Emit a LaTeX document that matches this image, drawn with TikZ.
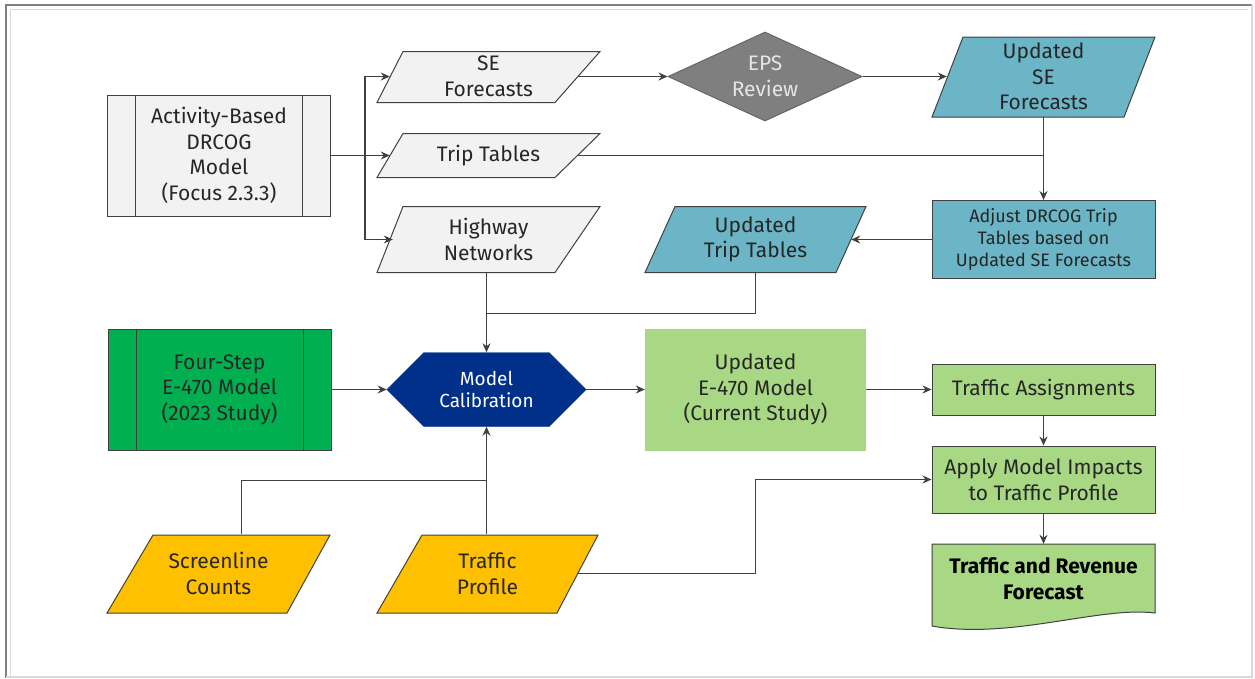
\documentclass[tikz,border=0pt]{standalone}
\usepackage{fontspec}
\setmainfont{Fira Sans}
\usetikzlibrary{shapes.geometric,shapes.symbols,arrows.meta}

\definecolor{lgray}{HTML}{F2F2F2}
\definecolor{edge}{HTML}{404040}
\definecolor{epsgray}{HTML}{7F7F7F}
\definecolor{seteal}{HTML}{6CB5C6}
\definecolor{calnavy}{HTML}{00308A}
\definecolor{dkgreen}{HTML}{00B050}
\definecolor{ltgreen}{HTML}{A9D884}
\definecolor{amber}{HTML}{FFC000}
\definecolor{txt}{HTML}{262626}
\definecolor{framedk}{HTML}{808080}
\definecolor{framelt}{HTML}{D9D9D9}

\tikzset{
  conn/.style={edge, line width=1.2pt},
  procbox/.style={rectangle, draw=edge, line width=1pt, align=center, text=txt, inner sep=2pt, minimum width=223pt},
  predef/.style={procbox, minimum height=121pt, path picture={
    \draw[edge, line width=1pt] ([xshift=28pt]path picture bounding box.north west) -- ([xshift=28pt]path picture bounding box.south west);
    \draw[edge, line width=1pt] ([xshift=-28pt]path picture bounding box.north east) -- ([xshift=-28pt]path picture bounding box.south east);}},
  ioshape/.style={draw=edge, line width=1pt},
  iotext/.style={rectangle, align=center, text=txt, inner sep=0pt}
}

\begin{document}
\begin{tikzpicture}[x=1pt,y=-1pt,font=\fontsize{21}{25.5}\selectfont,>={Stealth[length=9pt,width=8pt]}]
\useasboundingbox (0,0) rectangle (1255,678);
% frame
\draw[line width=2pt, framedk] (6,678) -- (6,5) -- (1252,5);
\draw[line width=1pt, framelt] (10,678) -- (10,9) -- (1248,9);
\draw[line width=1.5pt, framelt] (1252,5) -- (1252,677) -- (6,677);

% data shapes
\filldraw[ioshape, fill=lgray] (377,102.5) -- (403,51.5) -- (600,51.5) -- (555,102.5) -- cycle;
\filldraw[ioshape, fill=lgray] (377,177.5) -- (403,133.5) -- (600,133.5) -- (555,177.5) -- cycle;
\filldraw[ioshape, fill=lgray] (377,272.5) -- (403,206.5) -- (600,206.5) -- (555,272.5) -- cycle;
\filldraw[ioshape, fill=seteal] (932,117) -- (963,37) -- (1155,37) -- (1124,117) -- cycle;
\filldraw[ioshape, fill=seteal] (645,272.5) -- (675,206.5) -- (866,206.5) -- (836,272.5) -- cycle;
\filldraw[ioshape, fill=amber] (107,613) -- (153,535) -- (330,535) -- (287,613) -- cycle;
\filldraw[ioshape, fill=amber] (377,613) -- (422,535) -- (598,535) -- (557,613) -- cycle;
\filldraw[ioshape, fill=ltgreen] (932,544) -- (1155,544) -- (1155,613) .. controls (1100,606) and (1010,640) .. (932,626) -- cycle;

% upper part
\node[predef, fill=lgray] (abm) at (219,155.5) {Activity-Based\\DRCOG\\Model\\(Focus 2.3.3)};
\node[iotext, minimum width=223pt, minimum height=51pt] (se) at (488.5,76.5) {SE\\Forecasts};
\node[iotext, minimum width=223pt, minimum height=44pt] (tt) at (488.5,155.5) {Trip Tables};
\node[iotext, minimum width=223pt, minimum height=66pt] (hw) at (488.5,239.5) {Highway\\Networks};
\node[diamond, aspect=2.2, fill=epsgray, draw=edge!80, line width=1pt, text=white!90!black, align=center,
  minimum width=194pt, minimum height=89pt, inner sep=0pt] (eps) at (765,76.5) {EPS\\Review};
\node[iotext, minimum width=223pt, minimum height=80pt] (use) at (1043.5,76.5) {Updated\\SE\\Forecasts};
\node[procbox, fill=seteal, minimum height=78pt, font=\fontsize{18}{21.7}\selectfont] (adj) at (1043.5,239.5) {Adjust DRCOG Trip\\Tables based on\\Updated SE Forecasts};
\node[iotext, minimum width=221pt, minimum height=66pt] (ut) at (755.5,239.5) {Updated\\Trip Tables};

% middle part
\node[predef, fill=dkgreen] (fs) at (219.5,389.5) {Four-Step\\E-470 Model\\(2023 Study)};
\node[signal, signal to=east and west, signal pointer angle=90, fill=calnavy, draw=calnavy, text=white, align=center,
  minimum width=199pt, minimum height=74pt, inner sep=0pt, font=\fontsize{19}{22.5}\selectfont] (cal) at (486.5,389.5) {Model\\Calibration};
\node[rectangle, fill=ltgreen, text=txt, align=center, minimum width=221pt, minimum height=122pt] (ue) at (755.5,389.5) {Updated\\E-470 Model\\(Current Study)};
\node[procbox, fill=ltgreen, minimum height=51pt] (ta) at (1043.5,389.5) {Traffic Assignments};
\node[procbox, fill=ltgreen, minimum height=67pt] (ami) at (1043.5,479.5) {Apply Model Impacts\\to Traffic Profile};

% lower part
\node[iotext, text=black, font=\fontsize{21}{25.5}\bfseries, minimum width=223pt, minimum height=69pt] (trf) at (1043.5,578.5) {Traffic and Revenue\\Forecast};
\node[iotext, minimum width=223pt, minimum height=78pt] (sc) at (218.5,573.5) {Screenline\\Counts};
\node[iotext, minimum width=221pt, minimum height=78pt] (tp) at (487.5,573.5) {Traffic\\Profile};

% connectors
\coordinate (fork) at (365,155.5);
\draw[conn,->] (abm.east) -- ([xshift=13pt]tt.west);
\draw[conn,->] (fork) |- ([xshift=13pt]se.west);
\draw[conn,->] (fork) |- ([xshift=16pt]hw.west);
\draw[conn,->] ([xshift=-22pt]se.east) -- (eps.west);
\draw[conn,->] (eps.east) -- ([xshift=15pt]use.west);
\draw[conn,->] (use.south) -- (adj.north);
\draw[conn] ([xshift=-22pt]tt.east) -- (tt.east -| use.south);
\draw[conn,->] (adj.west) -- ([xshift=-15pt]ut.east);
\coordinate (mergetop) at (486.5,313.5);
\draw[conn,->] (hw.south -| cal.north) -- (cal.north);
\draw[conn] (ut.south) |- (mergetop);
\draw[conn,->] (fs.east) -- (cal.west);
\draw[conn,->] (cal.east) -- (ue.west);
\draw[conn,->] (ue.east) -- (ta.west);
\draw[conn,->] (ta) -- (ami);
\draw[conn,->] (ami) -- (trf);
\coordinate (mergebot) at (486.5,480.5);
\draw[conn,->] (tp.north -| cal.south) -- (cal.south);
\draw[conn] ([xshift=23pt]sc.north) |- (mergebot);
\draw[conn,->] ([xshift=-20pt]tp.east) -- (tp.east -| ue.south) |- (ami.west);
\end{tikzpicture}
\end{document}
